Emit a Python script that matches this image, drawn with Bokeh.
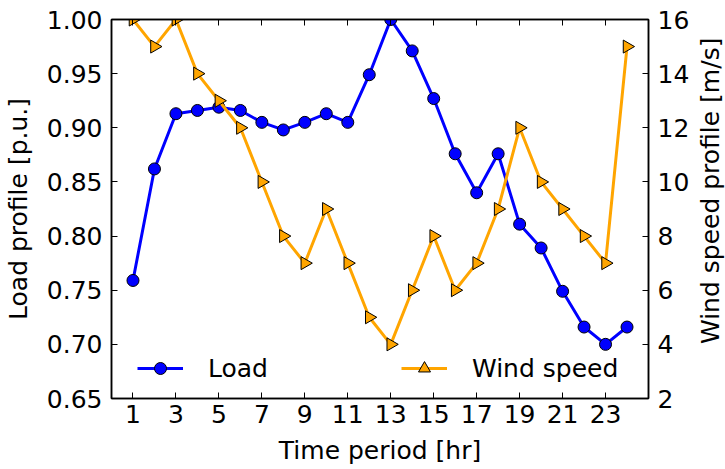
import math
from bokeh.plotting import figure
from bokeh.layouts import row
from bokeh.models import (LinearAxis, Range1d, FixedTicker, PrintfTickFormatter,
                          Legend, LegendItem)
from bokeh.core.properties import value
from bokeh.embed import file_html
from bokeh.resources import INLINE

hours = list(range(1, 25))
load = [0.759, 0.862, 0.913, 0.916, 0.919, 0.916, 0.905, 0.898, 0.905, 0.913, 0.905, 0.949,
        1.000, 0.971, 0.927, 0.876, 0.840, 0.876, 0.811, 0.789, 0.749, 0.716, 0.700, 0.716]
wind = [16, 15, 16, 14, 13, 12, 10, 8, 7, 9, 7, 5,
        4, 6, 8, 6, 7, 9, 12, 10, 9, 8, 7, 15]
x_ticks = list(range(1, 24, 2))
load_ticks = [0.65, 0.70, 0.75, 0.80, 0.85, 0.90, 0.95, 1.00]
wind_ticks = [2, 4, 6, 8, 10, 12, 14, 16]

FONT = "DejaVu Sans"
FS = "25px"

p = figure(frame_width=537, frame_height=379, output_backend="svg", toolbar_location=None,
           x_range=Range1d(0, 25), y_range=Range1d(0.65, 1.0),
           min_border_left=111, min_border_right=42, min_border_top=19, min_border_bottom=71,
           x_axis_type=None, y_axis_type=None)
p.extra_y_ranges = {"wind": Range1d(2, 16)}
p.background_fill_color = "white"
p.border_fill_color = "white"
p.outline_line_color = "black"
p.outline_line_width = 1.5


def style_axis(ax, labels=True):
    ax.axis_line_color = "black"
    ax.axis_line_width = 1.5
    ax.major_tick_in = 6
    ax.major_tick_out = 0
    ax.minor_tick_in = 0
    ax.minor_tick_out = 0
    ax.major_tick_line_color = "black"
    ax.major_label_text_font = FONT
    ax.major_label_text_font_size = FS
    ax.major_label_text_color = "black"
    ax.axis_label_text_font = FONT
    ax.axis_label_text_font_size = FS
    ax.axis_label_text_font_style = "normal"
    ax.axis_label_text_color = "black"
    if not labels:
        ax.major_label_text_font_size = "0px"


xb = LinearAxis(ticker=FixedTicker(ticks=x_ticks), axis_label="Time period [hr]")
style_axis(xb)
xb.major_label_standoff = 6
xb.axis_label_standoff = 10
p.add_layout(xb, "below")

xt = LinearAxis(ticker=FixedTicker(ticks=x_ticks))
style_axis(xt, labels=False)
p.add_layout(xt, "above")

yl = LinearAxis(ticker=FixedTicker(ticks=load_ticks), axis_label="Load profile [p.u.]",
                formatter=PrintfTickFormatter(format="%.2f"))
style_axis(yl)
yl.major_label_standoff = 9
yl.axis_label_standoff = 11
p.add_layout(yl, "left")

yr = LinearAxis(ticker=FixedTicker(ticks=wind_ticks), y_range_name="wind")
style_axis(yr)
yr.major_label_standoff = 9
p.add_layout(yr, "right")

p.ygrid.ticker = FixedTicker(ticks=load_ticks)
p.ygrid.grid_line_color = "black"
p.ygrid.grid_line_dash = "1 4"
p.ygrid.grid_line_width = 1
p.xgrid.visible = False

l1 = p.line(hours, load, line_color="#0000ff", line_width=3)
s1 = p.scatter(hours, load, marker="circle", size=12, fill_color="#0000ff",
               line_color="black", line_width=1)
l2 = p.line(hours, wind, line_color="#ffa500", line_width=3, y_range_name="wind")
s2 = p.scatter(hours, wind, marker="triangle", angle=-math.pi / 2, size=13,
               fill_color="#ffa500", line_color="black", line_width=1, y_range_name="wind")

legend = Legend(items=[LegendItem(label="Load", renderers=[l1, s1]),
                       LegendItem(label="Wind speed", renderers=[l2, s2])],
                orientation="horizontal", location=(26, 15))
legend.border_line_color = None
legend.background_fill_alpha = 0
legend.padding = 0
legend.margin = 0
legend.spacing = 0
legend.glyph_width = 46
legend.glyph_height = 30
legend.label_standoff = 25
legend.label_width = 193
legend.label_text_font = FONT
legend.label_text_font_size = FS
legend.label_text_color = "black"
p.add_layout(legend, "center")

# narrow strip carrying the right-hand axis title, reading bottom-to-top
t = figure(width=35, height=469, output_backend="svg", toolbar_location=None,
           x_range=Range1d(0, 1), y_range=Range1d(0, 1),
           min_border_left=0, min_border_right=0, min_border_top=0, min_border_bottom=0,
           x_axis_type=None, y_axis_type=None)
t.outline_line_color = None
t.xgrid.visible = False
t.ygrid.visible = False
t.background_fill_color = "white"
t.border_fill_color = "white"
t.text(x=[0.5], y=[0.548], text=["Wind speed profile [m/s]"], angle=math.pi / 2,
       text_align="center", text_baseline="middle",
       text_font=value(FONT), text_font_size=FS, text_color="black")

layout = row(p, t, spacing=0)
open("out.html", "w").write(file_html(layout, INLINE))
